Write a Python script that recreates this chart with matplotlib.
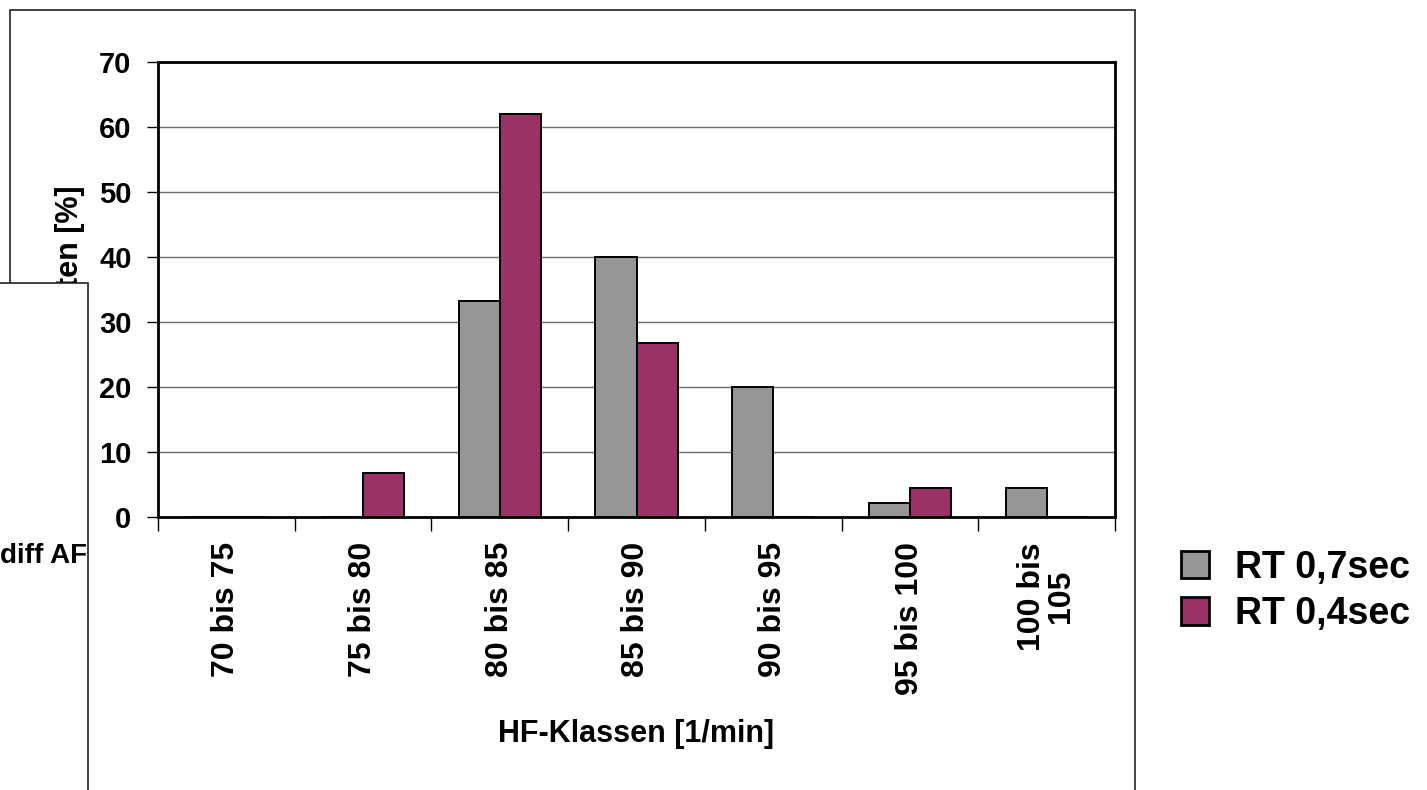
"""Histogram of HF classes for two RT settings (grouped bars)."""

import matplotlib

matplotlib.use("Agg")
import matplotlib.pyplot as plt
from matplotlib.patches import Rectangle
import numpy as np

categories = ["70 bis 75", "75 bis 80", "80 bis 85", "85 bis 90",
              "90 bis 95", "95 bis 100", "100 bis\n105"]
rt_07 = [0, 0, 33.3, 40.0, 20.0, 2.2, 4.4]
rt_04 = [0, 6.7, 62.0, 26.7, 0, 4.4, 0]
series_labels = ["RT 0,7sec", "RT 0,4sec"]
y_ticks = [0, 10, 20, 30, 40, 50, 60, 70]

plt.rcParams["font.family"] = ["Liberation Sans", "DejaVu Sans"]
plt.rcParams["font.weight"] = "bold"
FS = 22

W, H = 1427, 790
fig = plt.figure(figsize=(W / 100, H / 100), dpi=100)

# outer chart frame and overlapping window on the left
fig.patches.append(Rectangle((10 / W, -0.05), 1125 / W, 1 - 10 / H + 0.05,
                             transform=fig.transFigure, facecolor="white",
                             edgecolor="#222222", linewidth=1.2, zorder=0))
fig.patches.append(Rectangle((-0.01, -0.05), 88 / W + 0.01, 1 - 283 / H + 0.05,
                             transform=fig.transFigure, facecolor="white",
                             edgecolor="#222222", linewidth=1.2, zorder=5))

ax = fig.add_axes([158 / W, 1 - 517 / H, (1115 - 158) / W, (517 - 62) / H])
ax.set_zorder(2)

x = np.arange(len(categories))
width = 0.3
ax.bar(x - width / 2, rt_07, width, color="#969696", edgecolor="black",
       linewidth=1.4, label=series_labels[0], zorder=3)
ax.bar(x + width / 2, rt_04, width, color="#993366", edgecolor="black",
       linewidth=1.4, label=series_labels[1], zorder=3)

ax.set_xlim(-0.5, len(categories) - 0.5)
ax.set_ylim(0, 70)
ax.set_yticks(y_ticks)
ax.yaxis.grid(True, color="#6e6e6e", linewidth=1.0)
ax.set_axisbelow(True)

ax.set_xticks(x)
ax.set_xticklabels(categories, rotation=90, fontsize=23, fontweight="bold",
                   multialignment="center", linespacing=0.95)
ax.set_xticks(np.arange(len(categories) + 1) - 0.5, minor=True)
ax.tick_params(axis="x", which="major", length=0, pad=18)
ax.tick_params(axis="x", which="minor", length=10, width=1, direction="out")
ax.tick_params(axis="y", length=8, width=1, direction="out", pad=11,
               labelsize=21)
for lab in ax.get_yticklabels():
    lab.set_fontweight("bold")
for sp in ax.spines.values():
    sp.set_linewidth(2)

ax.set_xlabel("HF-Klassen [1/min]", fontsize=FS, fontweight="bold")
ax.xaxis.set_label_coords(0.5, -0.445)

# y label: its lower part is hidden behind the overlapping window
fig.text(70 / W, 1 - 185 / H, "Häufigkeiten [%]", rotation=90, ha="center",
         va="top", fontsize=FS, fontweight="bold", zorder=3)
fig.text(0, 1 - 556 / H, "diff AF", ha="left", va="center", fontsize=20,
         fontweight="bold", zorder=6)

ax.legend(loc="center left", bbox_to_anchor=(1147 / W, 1 - 591 / H),
          bbox_transform=fig.transFigure, frameon=False,
          handlelength=0.75, handleheight=0.75, handletextpad=0.7,
          labelspacing=0.28, prop={"weight": "bold", "size": 27})
for h in ax.get_legend().legend_handles:
    h.set_linewidth(2)

fig.savefig("out.png", dpi=100)
